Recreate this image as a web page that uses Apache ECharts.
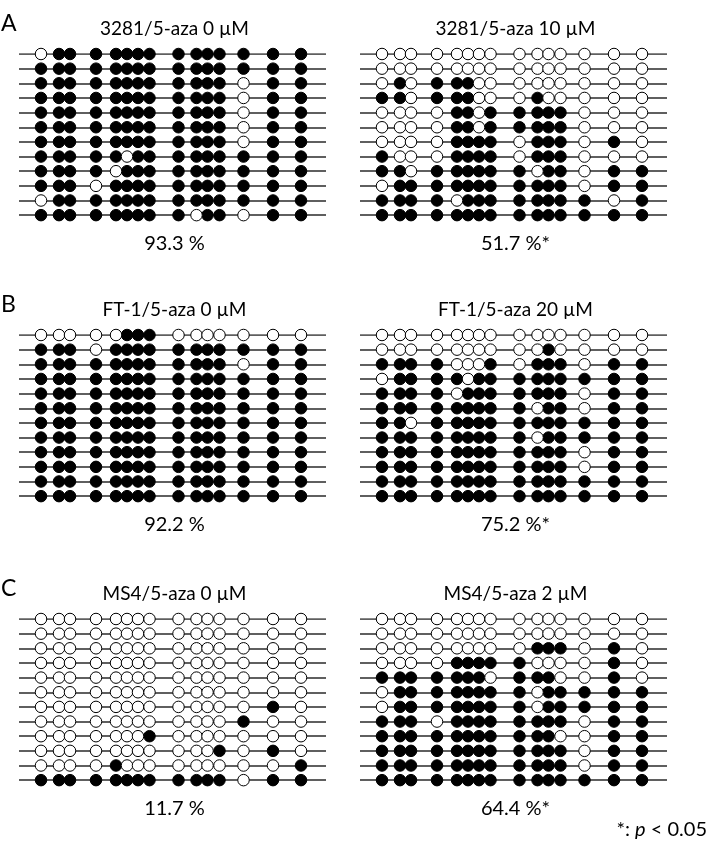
<!DOCTYPE html>
<html>
<head>
<meta charset="utf-8">
<script src="https://cdn.jsdelivr.net/npm/echarts@6/dist/echarts.min.js"></script>
<style>
html,body{margin:0;padding:0;background:#fff;}
#chart{width:713px;height:843px;}
</style>
</head>
<body>
<div id="chart"></div>
<script>
// CpG site positions along the amplicon (relative units)
const sitePositions = [0, 18, 29, 55, 75, 86, 97, 108.5, 137.5, 155.5, 166.5, 178.5, 202.5, 232, 260];

const groupLabels = ['A', 'B', 'C'];
const panelTitles = ['3281/5-aza 0 µM', '3281/5-aza 10 µM', 'FT-1/5-aza 0 µM', 'FT-1/5-aza 20 µM', 'MS4/5-aza 0 µM', 'MS4/5-aza 2 µM'];
const percentLabels = ['93.3 %', '51.7 %*', '92.2 %', '75.2 %*', '11.7 %', '64.4 %*'];

// 1 = methylated (filled), 0 = unmethylated (open); one string per clone
const meth3281_0 = [
  '011111111111111','111111111111111','111111111111011','111111111111011',
  '111111111111011','111111111111011','111111111111011','111110111111111',
  '111101111111111','111011111111111','011111111111111','111111111011011'];
const meth3281_10 = [
  '000000000000000','000000000000000','010111000000000','110111000100000',
  '000011011111000','000011011111000','000011110111010','100011110111000',
  '110111111011011','011111111111011','111101111111101','111111111111111'];
const methFT1_0 = [
  '000001110000000','111011111111111','111111111111011','111111111111111',
  '111111111111111','111111111111111','111111111111111','111111111111111',
  '111111111111111','111111111111111','111111111111111','111111111111111'];
const methFT1_20 = [
  '000000000000000','000000000010000','111100010111011','011110111111111',
  '111101111111011','111111111011011','110111111111111','111111111011111',
  '111111111111011','111111111111011','111111111111111','111111111111111'];
const methMS4_0 = [
  '000000000000000','000000000000000','000000000000000','000000000000000',
  '000000000000000','000000000000000','000000000000010','000000000000100',
  '000000010000000','000000000001010','000010000000001','111111111111011'];
const methMS4_2 = [
  '000000000000000','000000000000000','000000000111010','000011111000010',
  '111111101110010','011111111011111','011111111011111','111011111111011',
  '111111111110011','111111111111011','111111111111011','111111111111111'];

const panels = [meth3281_0, meth3281_10, methFT1_0, methFT1_20, methMS4_0, methMS4_2];

// layout
const colLeft = [19, 360];
const plotW = 307;
const rowTops = [54, 335, 619];
const rowGap = 14.65;
const xMin = -22, xMax = 285;
const fontFam = 'Lato, "Open Sans", sans-serif';

const grids = [], xAxes = [], yAxes = [], series = [], graphics = [];

panels.forEach((rows, p) => {
  const g = Math.floor(p / 2), c = p % 2;
  const top = rowTops[g];
  const h = rowGap * (rows.length - 1);
  grids.push({left: colLeft[c], top: top, width: plotW, height: h});
  xAxes.push({type: 'value', gridIndex: p, min: xMin, max: xMax, show: false});
  yAxes.push({type: 'value', gridIndex: p, min: 0, max: rows.length - 1, inverse: true, show: false});

  series.push({
    type: 'lines', coordinateSystem: 'cartesian2d', xAxisIndex: p, yAxisIndex: p,
    silent: true, z: 1,
    lineStyle: {color: '#2a2a2a', width: 1.6, opacity: 1},
    data: rows.map((r, i) => ({coords: [[xMin, i], [xMax, i]]}))
  });
  const filled = [], open = [];
  rows.forEach((r, i) => {
    r.split('').forEach((ch, j) => {
      (ch === '1' ? filled : open).push([sitePositions[j], i]);
    });
  });
  series.push({
    type: 'scatter', xAxisIndex: p, yAxisIndex: p, z: 3, silent: true,
    symbol: 'circle', symbolSize: 11.5,
    itemStyle: {color: '#000', borderColor: '#000', borderWidth: 1, opacity: 1},
    data: filled
  });
  series.push({
    type: 'scatter', xAxisIndex: p, yAxisIndex: p, z: 3, silent: true,
    symbol: 'circle', symbolSize: 11.5,
    itemStyle: {color: '#fff', borderColor: '#000', borderWidth: 1, opacity: 1},
    data: open
  });

  const cx = colLeft[c] + plotW / 2 + 2;
  graphics.push({
    type: 'text', x: cx, y: top - 25,
    style: {text: panelTitles[p], font: '19px ' + fontFam, fill: '#000', textAlign: 'center', textVerticalAlign: 'middle'}
  });
  graphics.push({
    type: 'text', x: cx, y: top + h + 28,
    style: {text: percentLabels[p], font: '20px ' + fontFam, fill: '#000', textAlign: 'center', textVerticalAlign: 'middle'}
  });
});

groupLabels.forEach((lab, g) => {
  graphics.push({
    type: 'text', x: 1, y: rowTops[g] - 30,
    style: {text: lab, font: '23px ' + fontFam, fill: '#000', textAlign: 'left', textVerticalAlign: 'middle'}
  });
});

graphics.push({
  type: 'text', x: 707, y: 830,
  style: {
    text: '*: {i|p} < 0.05',
    font: '20px ' + fontFam, fill: '#000', textAlign: 'right', textVerticalAlign: 'middle',
    rich: {i: {fontStyle: 'italic', fontSize: 20, fontFamily: fontFam}}
  }
});

const chart = echarts.init(document.getElementById('chart'), null, {renderer: 'canvas'});
chart.setOption({
  animation: false,
  backgroundColor: '#fff',
  grid: grids, xAxis: xAxes, yAxis: yAxes, series: series, graphic: graphics
});
</script>
</body>
</html>
